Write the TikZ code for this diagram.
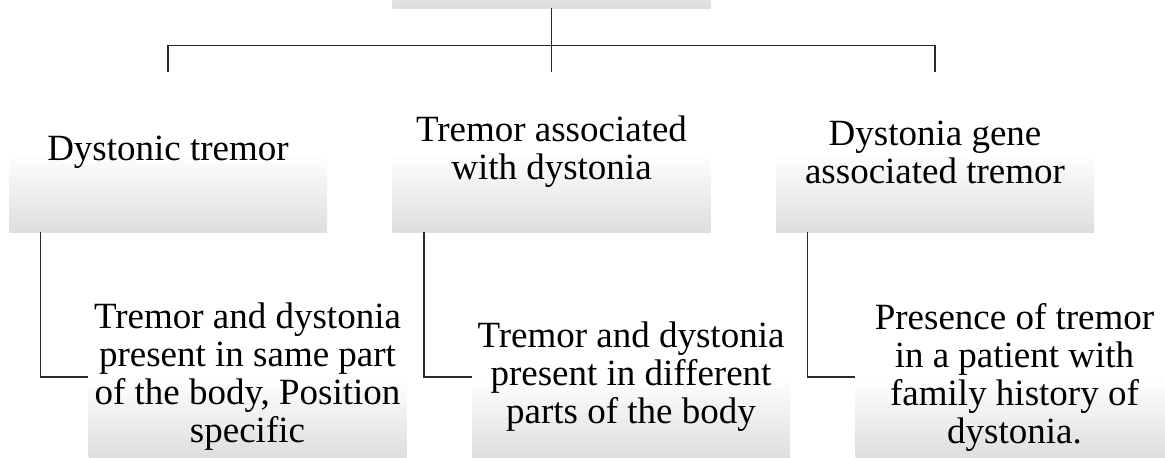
\documentclass[tikz,border=0pt]{standalone}
\usepackage{fontspec}
\setmainfont{Liberation Serif}
\usepackage{tikz}
\usetikzlibrary{positioning}

\definecolor{boxgray}{RGB}{222,222,222}
\definecolor{linegray}{RGB}{40,40,40}

\begin{document}
\begin{tikzpicture}[node distance=191.75pt,on grid,
    box/.style={minimum width=159pt, minimum height=80pt, inner sep=1pt,
        align=center, top color=white, bottom color=boxgray, middle color=white,
        font=\fontsize{18.5pt}{19pt}\selectfont},
    link/.style={draw=linegray, line width=0.7pt}]
        \useasboundingbox (0,0) rectangle (582.5pt,-228.5pt);
        \node[box] (b_1) at (84pt,-76pt) {Dystonic tremor};
        \node[box] (b_2) [right=of b_1] {Tremor associated\\with dystonia};
        \node[box] (b_3) [right=of b_2] {Dystonia gene\\associated tremor};
        \node[box] (root) [above=112pt of b_2] {};
        \node[box] (l_1) [below right=112.5pt and 39.75pt of b_1]
            {Tremor and dystonia\\present in same part\\of the body, Position\\specific};
        \node[box] (l_2) [below right=112.5pt and 39.75pt of b_2]
            {Tremor and dystonia\\present in different\\parts of the body};
        \node[box] (l_3) [below right=112.5pt and 39.75pt of b_3]
            {Presence of tremor\\in a patient with\\family history of\\dystonia.};
        % connectors
        \draw[link] (root.south) -- (b_2.north);
        \draw[link] (b_1.north) -- ++(0,13pt) -| (b_3.north);
        \draw[link] ([xshift=16pt]b_1.south west) |- (l_1.west);
        \draw[link] ([xshift=16pt]b_2.south west) |- (l_2.west);
        \draw[link] ([xshift=16pt]b_3.south west) |- (l_3.west);
    \end{tikzpicture}
\end{document}
